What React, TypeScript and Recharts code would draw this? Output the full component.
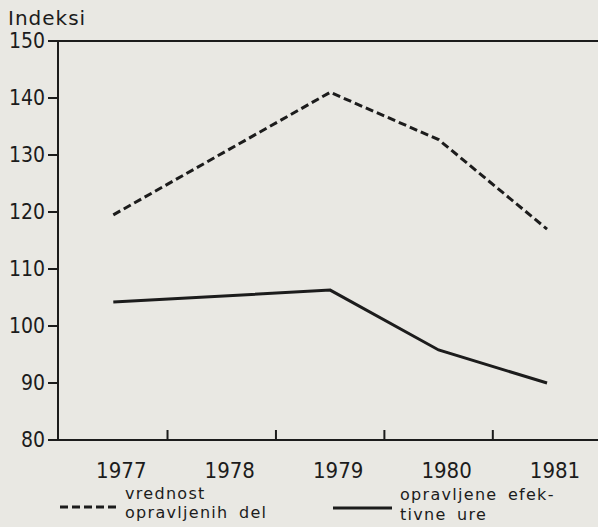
import { LineChart, Line, XAxis, YAxis, ReferenceLine } from "recharts";

const years = [1977, 1978, 1979, 1980, 1981];
// 1978 is not marked on either line: the segments run straight from 1977 to 1979
const vrednostDel = [119.5, null, 141, 132.7, 117];
const efektivneUre = [104.2, null, 106.3, 95.8, 90];
const yTicks = [80, 90, 100, 110, 120, 130, 140, 150];
const xTicks = [1977, 1977.5, 1978, 1978.5, 1979, 1979.5, 1980, 1980.5, 1981];

const data = years.map((y, i) => ({ year: y, vrednost: vrednostDel[i], ure: efektivneUre[i] }));

const ink = "#1c1c1c";
const paper = "#e9e8e3";
const numFont = "'Liberation Sans Narrow', 'DejaVu Sans Condensed', sans-serif";
const textFont = "'DejaVu Sans', sans-serif";

function YearTick(props: any) {
  const { x, y, payload } = props;
  const v = payload.value;
  if (Number.isInteger(v)) {
    return (
      <text x={x + 8} y={y + 38} textAnchor="middle" fontFamily={numFont} fontSize={22} fill={ink}>
        {v}
      </text>
    );
  }
  return <line x1={x} x2={x} y1={y - 10} y2={y} stroke={ink} strokeWidth={2} />;
}

export default function App() {
  return (
    <div style={{ position: "absolute", left: 0, top: 0, width: 598, height: 527, background: paper }}>
      <LineChart width={598} height={527} data={data} margin={{ top: 41, right: 0, bottom: 0, left: 0 }}>
        <XAxis
          dataKey="year"
          type="number"
          domain={[1976.49, 1981.47]}
          allowDataOverflow
          ticks={xTicks}
          interval={0}
          height={87}
          tickLine={false}
          tickSize={0}
          tickMargin={0}
          axisLine={{ stroke: ink, strokeWidth: 2 }}
          tick={<YearTick />}
        />
        <YAxis
          type="number"
          domain={[80, 150]}
          ticks={yTicks}
          interval={0}
          width={58}
          tickSize={10}
          tickMargin={3}
          axisLine={{ stroke: ink, strokeWidth: 2 }}
          tickLine={{ stroke: ink, strokeWidth: 2 }}
          tick={{ fill: ink, fontSize: 21, fontFamily: numFont }}
        />
        <ReferenceLine y={150} stroke={ink} strokeWidth={2} />
        <Line
          dataKey="vrednost"
          stroke={ink}
          strokeWidth={3}
          strokeDasharray="8 4"
          dot={false}
          connectNulls
          isAnimationActive={false}
        />
        <Line
          dataKey="ure"
          stroke={ink}
          strokeWidth={3}
          dot={false}
          connectNulls
          isAnimationActive={false}
        />
      </LineChart>
      <svg width={598} height={527} style={{ position: "absolute", left: 0, top: 0, pointerEvents: "none" }}>
        <text x={8} y={25} fontFamily={textFont} fontSize={20} fill={ink} letterSpacing={1}>
          Indeksi
        </text>
        <line x1={60} x2={118} y1={507} y2={507} stroke={ink} strokeWidth={3} strokeDasharray="8 4" />
        <g fontFamily={textFont} fontSize={16} fill={ink} letterSpacing={1.3} wordSpacing={4}>
          <text x={125} y={499}>vrednost</text>
          <text x={125} y={518}>opravljenih del</text>
          <text x={400} y={500}>opravljene efek-</text>
          <text x={400} y={520}>tivne ure</text>
        </g>
        <line x1={333} x2={392} y1={508} y2={508} stroke={ink} strokeWidth={3} />
      </svg>
    </div>
  );
}
